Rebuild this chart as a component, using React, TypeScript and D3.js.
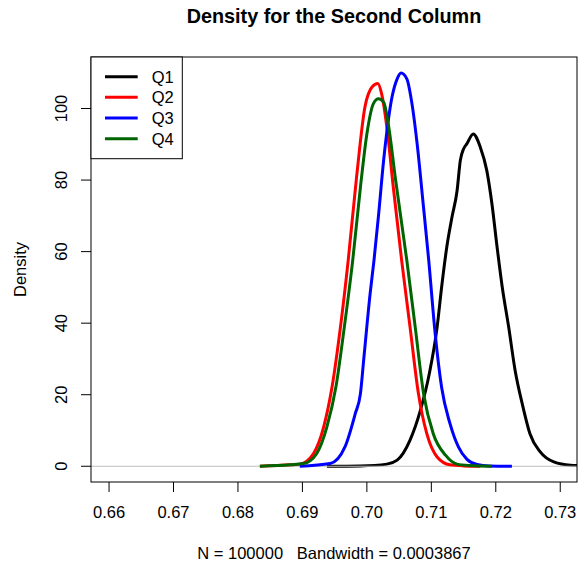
import React from "react";
import * as d3 from "d3";

const W = 578;
const H = 571;

const xTicks = [0.66, 0.67, 0.68, 0.69, 0.7, 0.71, 0.72, 0.73];
const yTicks = [0, 20, 40, 60, 80, 100];

const seriesNames = ["Q1", "Q2", "Q3", "Q4"];
const seriesColors = ["#000000", "#FF0000", "#0000FF", "#006400"];

const q1X = [0.6938, 0.699, 0.7031, 0.7047, 0.7067, 0.7083, 0.7097, 0.7109, 0.7116, 0.7124, 0.7132, 0.714, 0.7145, 0.715, 0.7155, 0.7165, 0.7176, 0.7186, 0.7194, 0.7202, 0.721, 0.722, 0.723, 0.7241, 0.7253, 0.7269, 0.729, 0.7316, 0.7335];
const q1Y = [0, 0.1, 0.6, 1.7, 7.3, 15.6, 26, 38.9, 50.1, 61.3, 69.6, 77.1, 85.5, 88.7, 90.1, 92.9, 89.2, 82.7, 73.4, 61.3, 50.1, 38.9, 26.8, 17.5, 9.1, 4.0, 1.2, 0.3, 0.2];

const q2X = [0.6834, 0.6881, 0.6896, 0.6917, 0.6933, 0.6946, 0.6959, 0.6971, 0.6984, 0.6997, 0.7008, 0.7017, 0.7023, 0.7031, 0.7041, 0.7054, 0.7067, 0.708, 0.7093, 0.7109, 0.7129, 0.715, 0.7176];
const q2Y = [0, 0.4, 0.6, 3.5, 11, 22.2, 38.9, 57.5, 80.8, 100.4, 106, 107, 104, 94.8, 78, 57.5, 38.9, 20.3, 9.1, 2.6, 0.4, 0.1, 0];

const q3X = [0.6896, 0.6943, 0.6966, 0.6982, 0.699, 0.6995, 0.7005, 0.7011, 0.7018, 0.7026, 0.7039, 0.7047, 0.7053, 0.7062, 0.707, 0.7078, 0.7087, 0.7096, 0.7106, 0.7116, 0.7129, 0.7142, 0.7155, 0.7171, 0.719, 0.7225];
const q3Y = [0, 0.75, 5.4, 14.7, 20.3, 29.6, 48.2, 57.5, 70, 85.5, 103.2, 108.3, 109.9, 108.3, 101.3, 90.1, 74, 57.5, 37, 22, 11.9, 5.4, 2.0, 0.5, 0.1, 0];

const q4X = [0.6834, 0.6881, 0.6902, 0.6922, 0.6938, 0.6952, 0.6965, 0.6978, 0.699, 0.7, 0.701, 0.7018, 0.7026, 0.7034, 0.7044, 0.7062, 0.7075, 0.7088, 0.7103, 0.7122, 0.714, 0.716, 0.7194];
const q4Y = [0, 0.4, 0.75, 3.5, 11, 22.2, 38.9, 57.5, 78, 92.9, 101.3, 102.7, 101.8, 94.8, 80.8, 57.5, 38.9, 20.3, 9.1, 3.1, 0.6, 0.2, 0];

const seriesX = [q1X, q2X, q3X, q4X];
const seriesY = [q1Y, q2Y, q3Y, q4Y];

const FONT = "'Liberation Sans', Arial, Helvetica, sans-serif";

export default function App() {
  const left = 91, right = 577, top = 57, bottom = 482;
  const x = d3.scaleLinear().domain([0.6572, 0.7326]).range([left, right]);
  const y = d3.scaleLinear().domain([-4.4, 114.4]).range([bottom, top]);

  const line = d3
    .line<[number, number]>()
    .x((d) => x(d[0]))
    .y((d) => y(d[1]))
    .curve(d3.curveMonotoneX);

  const paths = seriesX.map((xs, i) =>
    line(xs.map((v, j) => [v, seriesY[i][j]] as [number, number])) || ""
  );

  const fs = 16.5;
  const legendRows = [76.7, 97.3, 118, 138.7];

  return (
    <svg
      width={W}
      height={H}
      style={{ position: "absolute", left: 0, top: 0, background: "#fff" }}
      fontFamily={FONT}
    >
      <rect x={0} y={0} width={W} height={H} fill="#fff" />
      <defs>
        <clipPath id="plotclip">
          <rect x={left} y={top} width={right - left} height={bottom - top} />
        </clipPath>
      </defs>
      <text x={(left + right) / 2} y={23} textAnchor="middle" fontWeight="bold" fontSize={19.8}>
        Density for the Second Column
      </text>

      <g clipPath="url(#plotclip)">
        <path d={paths[0]} fill="none" stroke={seriesColors[0]} strokeWidth={3} strokeLinejoin="round" />
        <line x1={left} x2={right} y1={y(0)} y2={y(0)} stroke="#bebebe" strokeWidth={1} />
        {paths.slice(1).map((p, i) => (
          <path key={i} d={p} fill="none" stroke={seriesColors[i + 1]} strokeWidth={3} strokeLinejoin="round" />
        ))}
      </g>

      <rect x={left} y={top} width={right - left} height={bottom - top} fill="none" stroke="#000" strokeWidth={1} />

      {xTicks.map((t) => (
        <g key={t}>
          <line x1={x(t)} x2={x(t)} y1={bottom} y2={bottom + 10} stroke="#000" />
          <text x={x(t)} y={518} textAnchor="middle" fontSize={fs}>
            {t.toFixed(2)}
          </text>
        </g>
      ))}
      {yTicks.map((t) => (
        <g key={t}>
          <line x1={left - 10} x2={left} y1={y(t)} y2={y(t)} stroke="#000" />
          <text
            transform={`translate(${67},${y(t)}) rotate(-90)`}
            textAnchor="middle"
            fontSize={fs}
          >
            {t}
          </text>
        </g>
      ))}

      <text x={(left + right) / 2} y={559} textAnchor="middle" fontSize={fs} style={{ whiteSpace: "pre" }}>
        {"N = 100000   Bandwidth = 0.0003867"}
      </text>
      <text
        transform={`translate(${26},${(top + bottom) / 2}) rotate(-90)`}
        textAnchor="middle"
        fontSize={fs}
      >
        Density
      </text>

      <rect x={left} y={top} width={182.3 - left} height={158.7 - top} fill="#fff" stroke="#000" strokeWidth={1} />
      {seriesNames.map((n, i) => (
        <g key={n}>
          <line x1={105} x2={137.7} y1={legendRows[i]} y2={legendRows[i]} stroke={seriesColors[i]} strokeWidth={3} />
          <text x={151.7} y={legendRows[i] + 6} fontSize={fs}>
            {n}
          </text>
        </g>
      ))}
    </svg>
  );
}
